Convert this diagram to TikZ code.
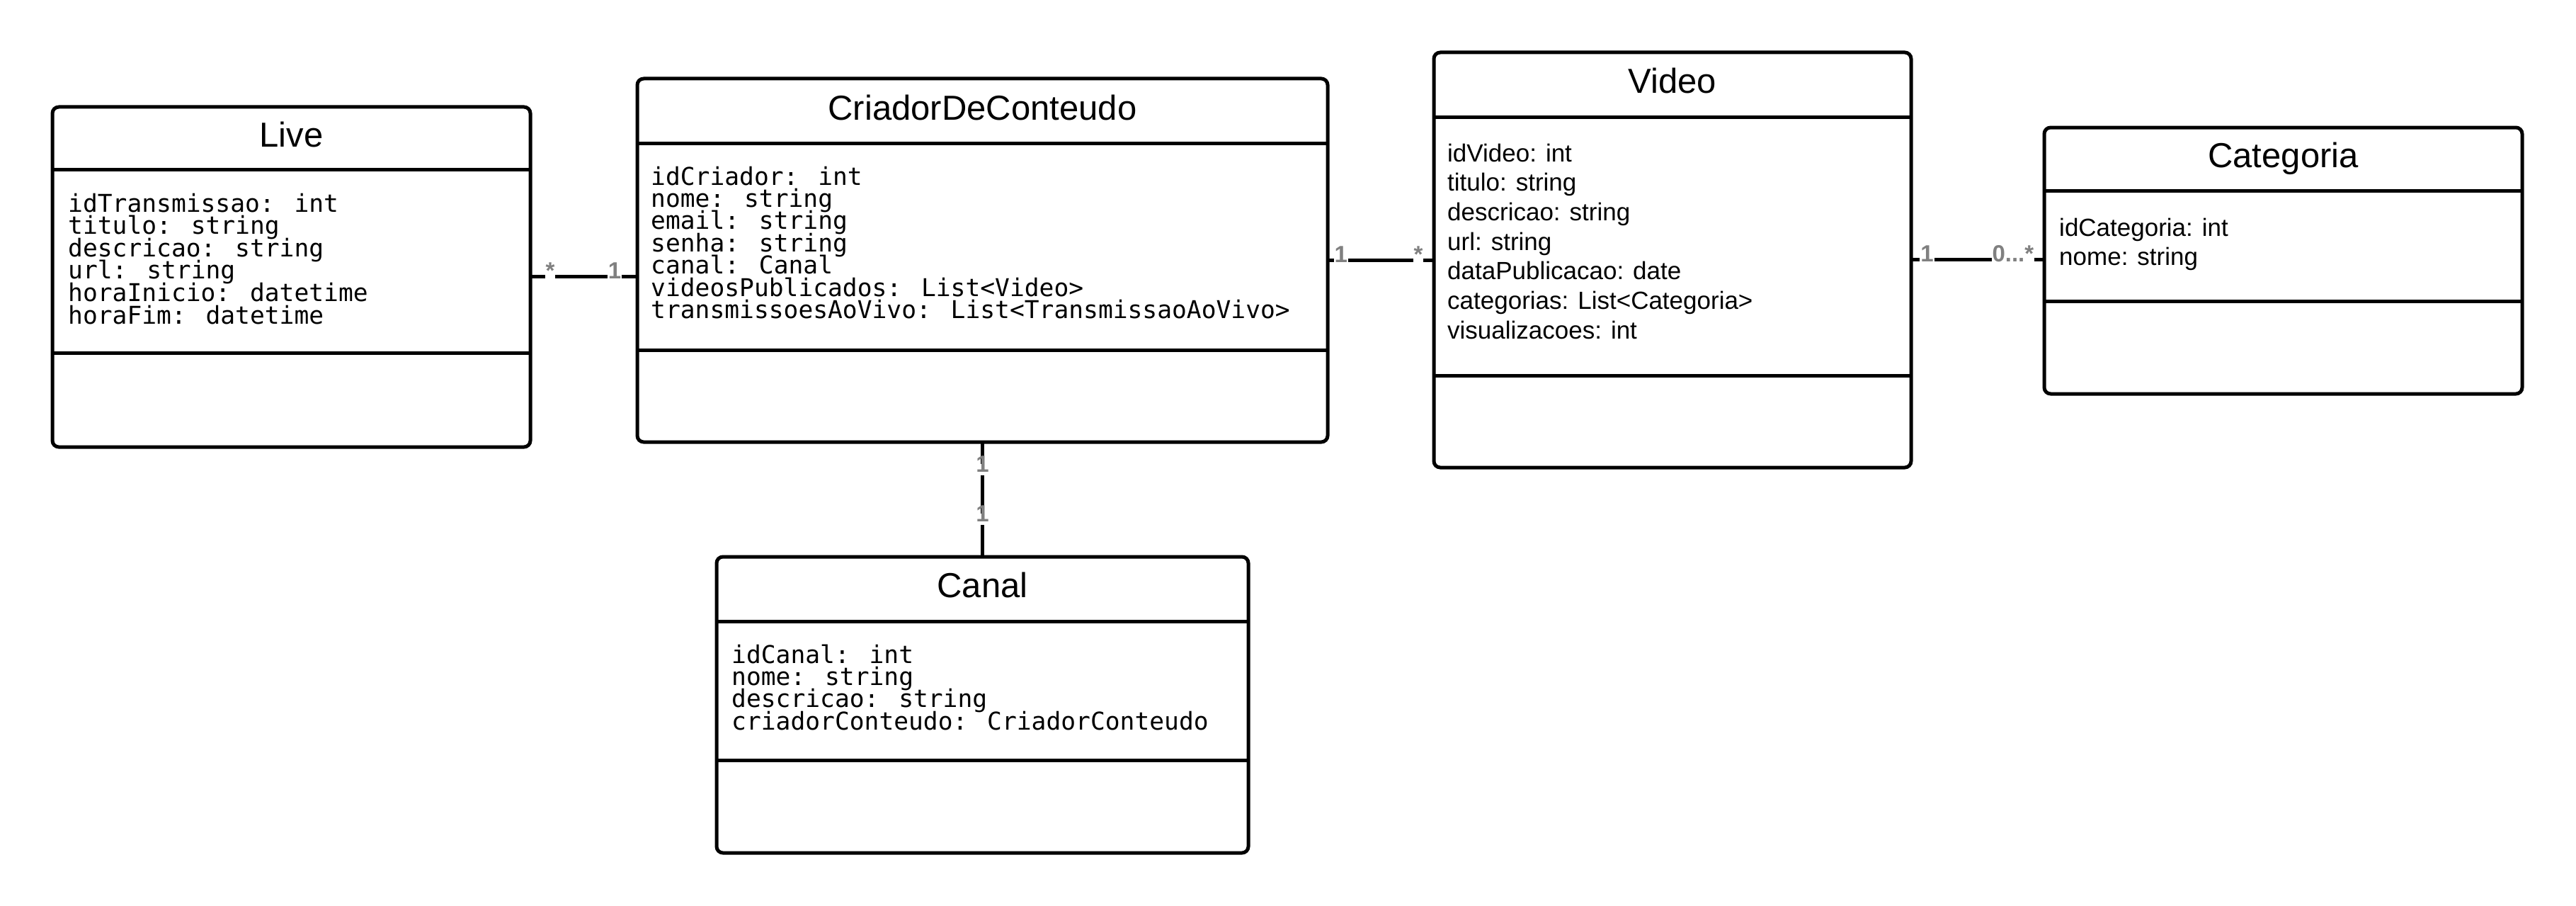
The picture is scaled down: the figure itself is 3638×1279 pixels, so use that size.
\documentclass[tikz,border=0pt]{standalone}
\usepackage{fontspec}
\setmainfont{Liberation Sans}
\newfontfamily\umlmono{DejaVu Sans Mono}
\definecolor{lblgray}{RGB}{128,128,128}
\tikzset{
  umlbox/.style={draw=black, line width=5pt, rounded corners=9pt, outer sep=0pt, inner sep=0pt, anchor=north west},
  divider/.style={line width=5pt},
  ttl/.style={font=\fontsize{49}{58}\selectfont, anchor=base, inner sep=0pt},
  attm/.style={font=\umlmono\fontsize{34.6}{40}\selectfont, anchor=base west, inner sep=0pt},
  atts/.style={font=\fontsize{35}{42}\selectfont, anchor=base west, inner sep=0pt},
  conn/.style={line width=5pt},
  lbl/.style={font=\fontsize{33}{38}\selectfont\bfseries, text=lblgray, fill=white, inner xsep=1pt, inner ysep=3pt, text height=0.85em, text depth=0.2em}
}
\begin{document}
\begin{tikzpicture}[x=1pt,y=-1pt]
\fill[white] (0,0) rectangle (3638,1279);
\useasboundingbox (0,0) rectangle (3638,1279);

% boxes
\node[umlbox, minimum width=675pt, minimum height=480pt] (live) at (74,151) {};
\node[umlbox, minimum width=975pt, minimum height=513pt] (criador) at (900,111) {};
\node[umlbox, minimum width=674pt, minimum height=586pt] (video) at (2025,74) {};
\node[umlbox, minimum width=675pt, minimum height=376pt] (categoria) at (2887,180) {};
\node[umlbox, minimum width=751pt, minimum height=418pt] (canal) at (1012,786) {};

% dividers
\draw[divider] (live.west |- 0,239) -- (live.east |- 0,239);
\draw[divider] (live.west |- 0,498) -- (live.east |- 0,498);
\draw[divider] (criador.west |- 0,202) -- (criador.east |- 0,202);
\draw[divider] (criador.west |- 0,494) -- (criador.east |- 0,494);
\draw[divider] (video.west |- 0,165) -- (video.east |- 0,165);
\draw[divider] (video.west |- 0,530) -- (video.east |- 0,530);
\draw[divider] (categoria.west |- 0,269) -- (categoria.east |- 0,269);
\draw[divider] (categoria.west |- 0,425) -- (categoria.east |- 0,425);
\draw[divider] (canal.west |- 0,877) -- (canal.east |- 0,877);
\draw[divider] (canal.west |- 0,1073) -- (canal.east |- 0,1073);

% titles
\node[ttl] (live-t) at (411.5,207) {Live};
\node[ttl] (criador-t) at (1387.5,169.5) {CriadorDeConteudo};
\node[ttl] (video-t) at (2362,131.5) {Video};
\node[ttl] (categoria-t) at (3224.5,236.5) {Categoria};
\node[ttl] (canal-t) at (1387.5,843.5) {Canal};

% attributes
\foreach \t [count=\i from 0] in {idTransmissao: int, titulo: string, descricao: string, url: string, horaInicio: datetime, horaFim: datetime}
  \node[attm, name=live-a\i] at (96,{299+31.6*\i}) {\t};
\foreach \t [count=\i from 0] in {idCriador: int, nome: string, email: string, senha: string, canal: Canal, videosPublicados: List<Video>, transmissoesAoVivo: List<TransmissaoAoVivo>}
  \node[attm, name=criador-a\i] at (919,{261+31.4*\i}) {\t};
\foreach \t [count=\i from 0] in {idCanal: int, nome: string, descricao: string, criadorConteudo: CriadorConteudo}
  \node[attm, name=canal-a\i] at (1033,{936+31.4*\i}) {\t};
\foreach \t [count=\i from 0] in {idVideo: int, titulo: string, descricao: string, url: string, dataPublicacao: date, categorias: List<Categoria>, visualizacoes: int}
  \node[atts, name=video-a\i] at (2044,{228+41.7*\i}) {\t};
\foreach \t [count=\i from 0] in {idCategoria: int, nome: string}
  \node[atts, name=categoria-a\i] at (2908,{333+41*\i}) {\t};

% connectors
\draw[conn] (live.east |- 0,390) -- node[lbl, pos=0.185] (m1) {*} node[lbl, pos=0.788] (m2) {1} (criador.west |- 0,390);
\draw[conn] (criador.east |- 0,367) -- node[lbl, pos=0.125] (m3) {1} node[lbl, pos=0.853] (m4) {*} (video.west |- 0,367);
\draw[conn] (video.east |- 0,366) -- node[lbl, pos=0.12] (m5) {1} node[lbl, pos=0.765] (m6) {0...*} (categoria.west |- 0,366);
\draw[conn] (criador.south) -- node[lbl, pos=0.24] (m7) {1} node[lbl, pos=0.673] (m8) {1} (canal.north);
\end{tikzpicture}
\end{document}
